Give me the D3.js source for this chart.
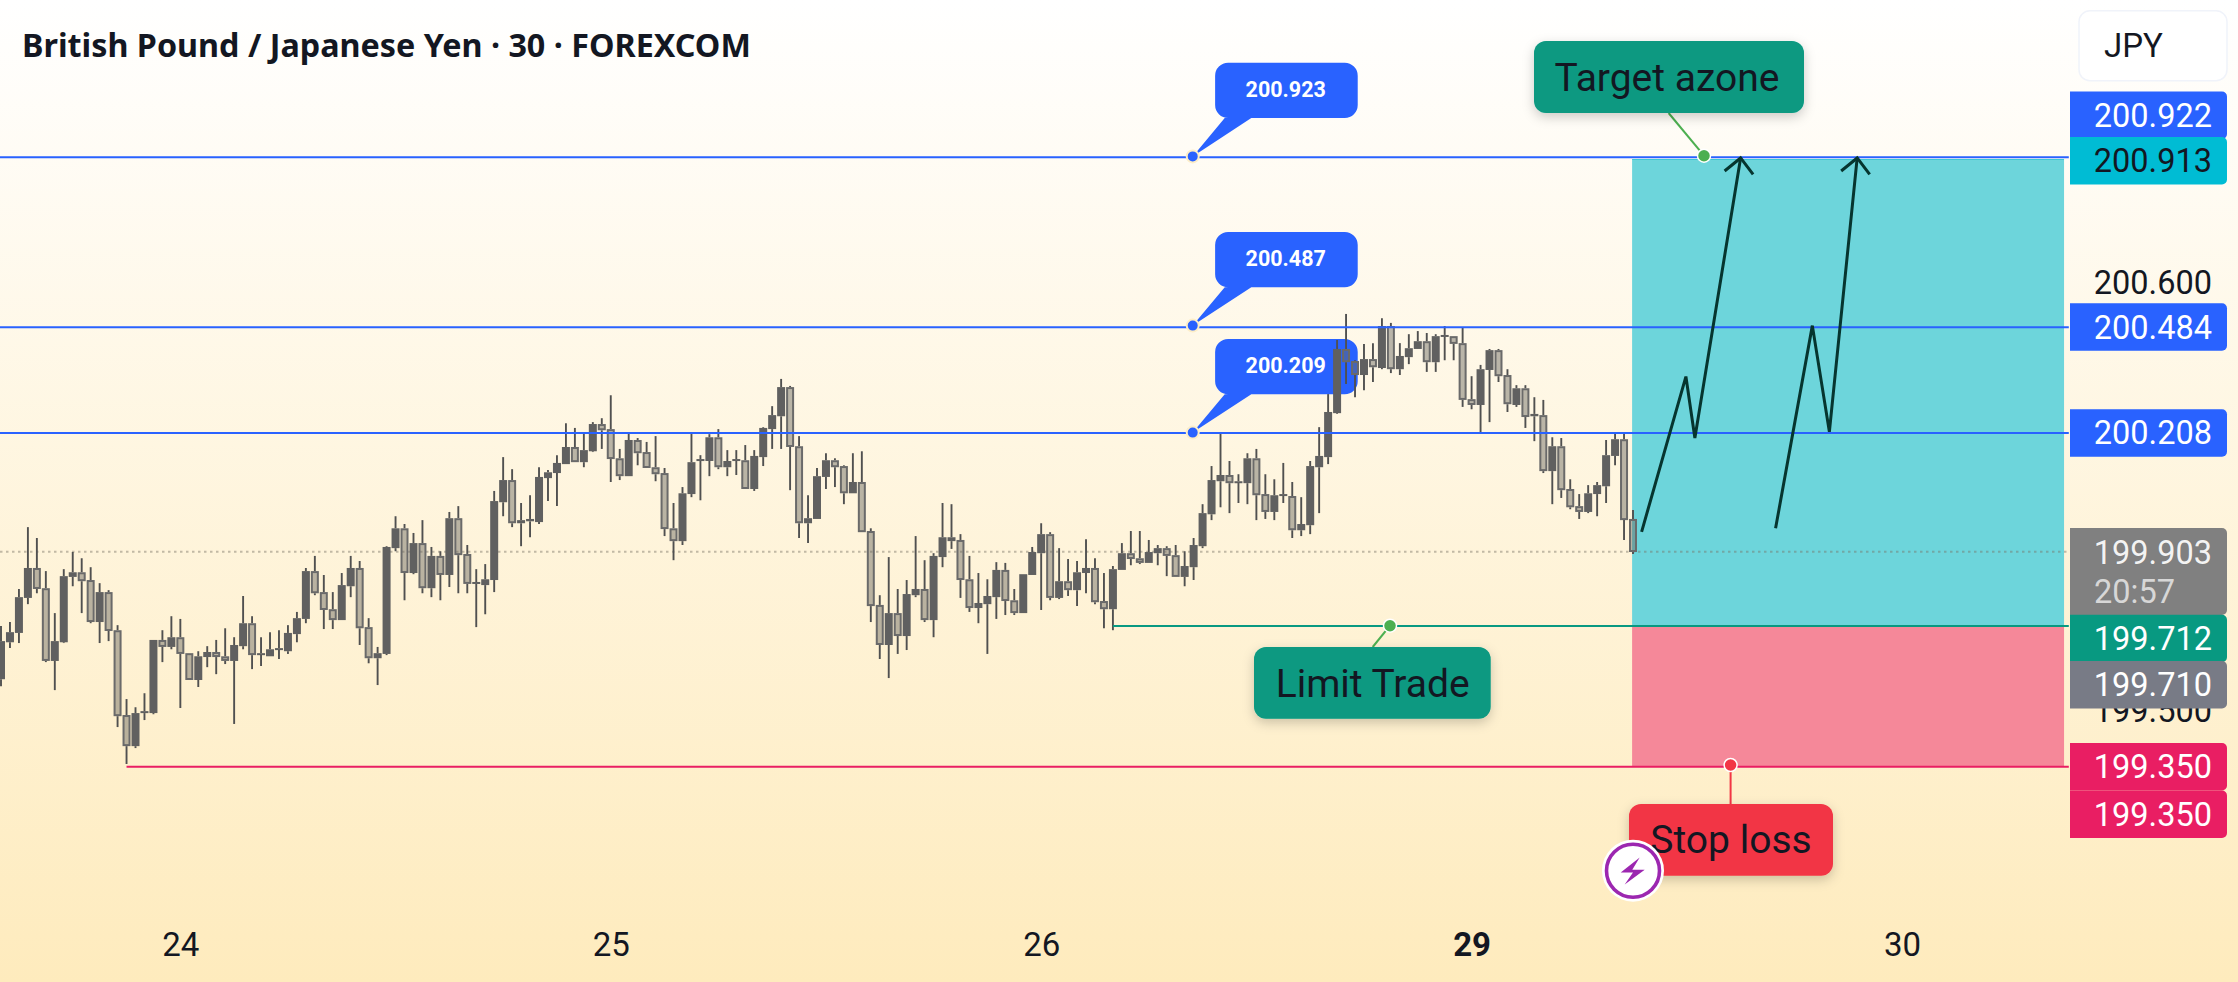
<!DOCTYPE html>
<html><head><meta charset="utf-8">
<script src="https://cdnjs.cloudflare.com/ajax/libs/d3/7.8.5/d3.min.js"></script>
<style>html,body{margin:0;padding:0;background:#fff;overflow:hidden}svg{display:block}</style>
</head><body><div id="chart"></div>
<script>
const titleText = "British Pound / Japanese Yen · 30 · FOREXCOM";
const highs = [
199.712,199.722,199.807,199.966,199.938,199.853,199.745,199.858,199.902,199.886,
199.863,199.822,199.804,199.714,199.524,199.503,199.539,199.676,199.701,199.737,
199.730,199.642,199.647,199.660,199.676,199.706,199.683,199.789,199.737,199.683,
199.696,199.701,199.714,199.748,199.861,199.892,199.843,199.799,199.848,199.892,
199.879,199.732,199.658,199.917,199.994,199.974,199.951,199.984,199.915,199.904,
200.005,200.020,199.920,199.858,199.871,200.059,200.146,200.115,200.028,200.048,
200.120,200.113,200.151,200.233,200.221,200.208,200.236,200.246,200.305,200.167,
200.208,200.195,200.185,200.200,200.118,200.028,200.069,200.210,200.151,200.205,
200.218,200.164,200.164,200.177,200.164,200.223,200.277,200.347,200.329,200.200,
200.048,200.118,200.156,200.143,200.125,200.156,200.161,199.963,199.791,199.889,
199.807,199.830,199.943,199.881,199.899,200.028,200.025,199.948,199.892,199.848,
199.832,199.876,199.874,199.807,199.845,199.915,199.976,199.953,199.912,199.884,
199.879,199.935,199.886,199.848,199.866,199.925,199.956,199.956,199.933,199.920,
199.917,199.920,199.904,199.938,200.025,200.123,200.210,200.136,200.102,200.156,
200.167,200.102,200.089,200.131,200.082,200.043,200.136,200.223,200.308,200.447,
200.514,200.395,200.437,200.439,200.503,200.491,200.439,200.462,200.470,200.465,
200.462,200.483,200.457,200.478,200.354,200.383,200.424,200.424,200.372,200.331,
200.331,200.300,200.293,200.197,200.195,200.089,200.051,200.074,200.082,200.190,
200.208,200.208,200.010];
const lows = [
199.557,199.655,199.668,199.768,199.796,199.619,199.547,199.668,199.814,199.745,
199.719,199.668,199.673,199.452,199.357,199.398,199.470,199.485,199.619,199.652,
199.501,199.573,199.555,199.606,199.588,199.614,199.460,199.652,199.601,199.609,
199.634,199.627,199.640,199.670,199.719,199.791,199.704,199.704,199.727,199.786,
199.663,199.616,199.560,199.637,199.904,199.778,199.845,199.796,199.786,199.778,
199.812,199.796,199.796,199.709,199.742,199.799,199.994,199.966,199.917,199.940,
199.974,200.033,200.020,200.128,200.133,200.120,200.159,200.167,200.082,200.087,
200.097,200.125,200.118,200.084,199.943,199.881,199.920,200.043,200.035,200.097,
200.115,200.097,200.100,200.064,200.059,200.123,200.167,200.167,200.061,199.938,
199.925,199.987,200.064,200.069,200.025,200.053,199.953,199.722,199.627,199.578,
199.640,199.650,199.786,199.722,199.683,199.863,199.910,199.784,199.748,199.719,
199.640,199.730,199.740,199.740,199.745,199.843,199.753,199.778,199.781,199.789,
199.763,199.796,199.768,199.706,199.701,199.856,199.868,199.871,199.874,199.868,
199.840,199.838,199.814,199.830,199.912,199.984,200.017,200.002,200.028,200.025,
199.984,199.987,199.984,200.028,199.938,199.943,199.948,200.002,200.128,200.257,
200.334,200.300,200.318,200.339,200.372,200.362,200.357,200.385,200.424,200.365,
200.365,200.395,200.395,200.275,200.269,200.210,200.236,200.339,200.262,200.275,
200.221,200.187,200.105,200.025,200.041,200.012,199.987,200.002,199.994,200.028,
200.125,199.933,199.897];
const opens = [
199.575,199.670,199.694,199.784,199.861,199.809,199.622,199.670,199.838,199.850,
199.830,199.722,199.799,199.701,199.483,199.403,199.488,199.488,199.676,199.658,
199.683,199.642,199.573,199.632,199.645,199.634,199.622,199.660,199.719,199.637,
199.634,199.650,199.647,199.691,199.730,199.853,199.799,199.755,199.727,199.814,
199.861,199.709,199.629,199.640,199.912,199.963,199.848,199.925,199.809,199.892,
199.843,199.989,199.897,199.820,199.817,199.830,200.030,200.087,199.976,199.981,
199.979,200.092,200.105,200.128,200.172,200.133,200.161,200.231,200.218,200.143,
200.097,200.190,200.159,200.120,200.105,199.963,199.930,200.051,200.136,200.136,
200.197,200.120,200.136,200.138,200.064,200.146,200.218,200.251,200.326,200.174,
199.976,199.987,200.095,200.138,200.123,200.053,200.082,199.956,199.766,199.663,
199.745,199.686,199.791,199.807,199.727,199.889,199.930,199.933,199.832,199.758,
199.768,199.786,199.856,199.778,199.745,199.843,199.899,199.948,199.784,199.827,
199.804,199.848,199.861,199.776,199.755,199.856,199.899,199.886,199.874,199.899,
199.912,199.894,199.838,199.863,199.917,199.999,200.084,200.100,200.082,200.079,
200.143,200.051,200.005,200.046,200.046,199.958,199.971,200.120,200.146,200.259,
200.424,200.393,200.357,200.398,200.375,200.483,200.372,200.403,200.424,200.444,
200.390,200.457,200.457,200.439,200.295,200.280,200.370,200.421,200.357,200.280,
200.323,200.251,200.254,200.110,200.174,200.064,200.020,200.005,200.051,200.071,
200.149,200.192,199.987];
const closes = [
199.673,199.696,199.786,199.861,199.807,199.622,199.673,199.840,199.850,199.827,
199.722,199.799,199.699,199.480,199.403,199.488,199.493,199.676,199.658,199.683,
199.640,199.573,199.634,199.645,199.632,199.622,199.663,199.719,199.637,199.642,
199.652,199.655,199.694,199.732,199.853,199.796,199.753,199.727,199.817,199.861,
199.706,199.629,199.642,199.915,199.963,199.848,199.925,199.809,199.892,199.843,
199.989,199.894,199.820,199.825,199.832,200.033,200.087,199.976,199.984,199.987,
200.095,200.107,200.131,200.172,200.133,200.164,200.231,200.215,200.141,200.097,
200.190,200.156,200.118,200.102,199.961,199.930,200.053,200.133,200.141,200.197,
200.120,200.136,200.141,200.064,200.149,200.221,200.254,200.326,200.172,199.976,
199.989,200.097,200.138,200.120,200.053,200.082,199.953,199.763,199.663,199.745,
199.686,199.794,199.807,199.727,199.892,199.940,199.940,199.830,199.758,199.771,
199.789,199.856,199.776,199.745,199.845,199.902,199.948,199.784,199.827,199.804,
199.850,199.861,199.773,199.755,199.858,199.899,199.884,199.874,199.902,199.912,
199.892,199.838,199.866,199.920,200.002,200.087,200.100,200.079,200.084,200.143,
200.048,200.005,200.048,200.051,199.958,199.974,200.123,200.149,200.262,200.424,
200.390,200.357,200.398,200.377,200.483,200.372,200.406,200.426,200.444,200.390,
200.457,200.460,200.437,200.293,200.280,200.372,200.421,200.354,200.282,200.323,
200.249,200.257,200.110,200.174,200.061,200.017,200.005,200.053,200.074,200.151,
200.192,199.984,199.902];

const dayTickBars = [20,68,116,164,212];
const dayTickLabels = ["24","25","26","29","30"];
const priceTicks = [200.6,199.5];
const levelPrices = [200.917,200.480,200.208];
const calloutLabels = ["200.923","200.487","200.209"];
const calloutPrices = [200.919,200.484,200.209];
const calloutBar = 132.9;
const lastPrice = 199.903;
const entryPrice = 199.712, targetPrice = 200.911, stopPrice = 199.350;
const entryStartBar = 124, stopStartBar = 14, zoneStartBar = 181.9, zoneEndBar = 230.07, paneEndBar = 230.6;
const arrowA = [[182.96,199.954],[187.9,200.353],[188.9,200.195],[194.0,200.915]];
const arrowB = [[197.9,199.963],[202.0,200.484],[203.9,200.211],[207.0,200.915]];
const tagLabels = ["200.922","200.913","200.484","200.208","199.712","199.710","199.350","199.350"];
const tagPrices = [200.922,200.913,200.484,200.208,199.712,199.710,199.350,199.350];
const tagShifts = [-40,2,1.4,0,12.6,58,0,47.5];
const tagFills = ["#2962ff","#00bcd4","#2962ff","#2962ff","#089981","#787b86","#e91e63","#e91e63"];
const tagInks = ["#fff","#131722","#fff","#fff","#fff","#fff","#fff","#fff"];

const W = 2238, H = 982;
const svg = d3.select("#chart").append("svg").attr("width",W).attr("height",H).attr("viewBox",`0 0 ${W} ${H}`);
const defs = svg.append("defs");
const grad = defs.append("linearGradient").attr("id","bg").attr("x1",0).attr("y1",0).attr("x2",0).attr("y2",1);
grad.append("stop").attr("offset",0).attr("stop-color","#ffffff");
grad.append("stop").attr("offset",1).attr("stop-color","#feebbd");
const shadow = defs.append("filter").attr("id","sh").attr("x","-20%").attr("y","-30%").attr("width","140%").attr("height","170%");
shadow.append("feDropShadow").attr("dx",0).attr("dy",4).attr("stdDeviation",6).attr("flood-color","#000").attr("flood-opacity",.2);

svg.append("rect").attr("width",W).attr("height",H).attr("fill","url(#bg)");

const x = d3.scaleLinear().domain([0,182]).range([1,1633]);
const y = d3.scaleLinear().domain([199,201]).range([902.9,124.9]);
const ROBOTO = "Roboto, sans-serif";
const INK = "#131722";

// Zones
svg.append("rect").attr("x",x(zoneStartBar)).attr("y",y(targetPrice)).attr("width",x(zoneEndBar)-x(zoneStartBar)).attr("height",y(entryPrice)-y(targetPrice)).attr("fill","#6dd5db");
svg.append("line").attr("x1",x(zoneStartBar)).attr("x2",x(zoneEndBar)).attr("y1",y(targetPrice)).attr("y2",y(targetPrice)).attr("stroke","#3cc8d4").attr("stroke-width",1.2);
svg.append("rect").attr("x",x(zoneStartBar)).attr("y",y(entryPrice)).attr("width",x(zoneEndBar)-x(zoneStartBar)).attr("height",y(stopPrice)-y(entryPrice)).attr("fill","#f58899");

// Blue callouts
const callouts = d3.range(calloutLabels.length).map(i=>({label:calloutLabels[i],p:calloutPrices[i]}));
const cg = svg.append("g");
callouts.forEach(c=>{
  const ax=x(calloutBar), ay=y(c.p), l=ax+22.4, r=ax+165, t=ay-93.6, b=ay-38.4, rad=13;
  const pth=d3.path();
  pth.moveTo(l+rad,t); pth.lineTo(r-rad,t); pth.arcTo(r,t,r,t+rad,rad); pth.lineTo(r,b-rad); pth.arcTo(r,b,r-rad,b,rad);
  pth.lineTo(ax+58.6,b); pth.lineTo(ax,ay); pth.lineTo(ax+32,b); pth.lineTo(l+rad,b); pth.arcTo(l,b,l,b-rad,rad); pth.lineTo(l,t+rad); pth.arcTo(l,t,l+rad,t,rad); pth.closePath();
  cg.append("path").attr("d",pth.toString()).attr("fill","#2962ff");
  cg.append("text").attr("x",ax+93).attr("y",ay-68.2+8.4).attr("text-anchor","middle").attr("font-family",ROBOTO).attr("font-weight",700).attr("font-size",21.5).attr("fill","#fff").text(c.label);
});

// Last price dotted line
svg.append("line").attr("x1",0).attr("x2",x(paneEndBar)).attr("y1",y(lastPrice)).attr("y2",y(lastPrice)).attr("stroke","rgba(120,113,100,.45)").attr("stroke-width",2).attr("stroke-dasharray","2.5 3.5");

// Candles
const candles = d3.range(opens.length).map(i=>({i,o:opens[i],h:highs[i],l:lows[i],c:closes[i]}));
const cs = svg.append("g").selectAll("g").data(candles).join("g");
const wick = (sel,a,b)=>sel.append("line").attr("x1",d=>x(d.i)).attr("x2",d=>x(d.i)).attr("y1",d=>y(a(d))).attr("y2",d=>y(b(d))).attr("stroke","#505050").attr("stroke-width",1.9);
wick(cs,d=>d.h,d=>Math.max(d.o,d.c));
wick(cs,d=>Math.min(d.o,d.c),d=>d.l);
cs.filter(d=>d.c>=d.o).append("rect")
  .attr("x",d=>x(d.i)-4).attr("width",8)
  .attr("y",d=>y(d.c)).attr("height",d=>Math.max(2,y(d.o)-y(d.c))).attr("fill","#606060");
cs.filter(d=>d.c<d.o).append("rect")
  .attr("x",d=>x(d.i)-3).attr("width",6)
  .attr("y",d=>y(d.o)+1).attr("height",d=>Math.max(1,y(d.c)-y(d.o)-2))
  .attr("fill","rgba(105,102,95,.46)").attr("stroke","#6a6a6a").attr("stroke-width",2);

// Horizontal level lines
levelPrices.forEach(p=>svg.append("line").attr("x1",0).attr("x2",x(paneEndBar)).attr("y1",y(p)).attr("y2",y(p)).attr("stroke","#2962ff").attr("stroke-width",2));
svg.append("line").attr("x1",x(entryStartBar)).attr("x2",x(paneEndBar)).attr("y1",y(entryPrice)).attr("y2",y(entryPrice)).attr("stroke","#089981").attr("stroke-width",2);
svg.append("line").attr("x1",x(stopStartBar)).attr("x2",x(paneEndBar)).attr("y1",y(stopPrice)).attr("y2",y(stopPrice)).attr("stroke","#e91e63").attr("stroke-width",2);

// Callout dots
callouts.forEach(c=>svg.append("circle").attr("cx",x(calloutBar)).attr("cy",y(c.p)).attr("r",6).attr("fill","#2962ff").attr("stroke","#fdeec8").attr("stroke-width",2));

// Arrows
const lineGen = d3.line().x(d=>x(d[0])).y(d=>y(d[1]));
[arrowA,arrowB].forEach(a=>{
  svg.append("path").attr("d",lineGen(a)).attr("fill","none").attr("stroke","#06352f").attr("stroke-width",3).attr("stroke-linejoin","miter").attr("stroke-linecap","butt");
  const t=a[a.length-1], tx=x(t[0]), ty=y(t[1]);
  svg.append("path").attr("d",`M${tx-16},${ty+13}L${tx},${ty}L${tx+12.5},${ty+16.5}`).attr("fill","none").attr("stroke","#06352f").attr("stroke-width",3);
});

// Label boxes with connectors
function noteBox(label,fill,lx,rx,ty,by,cx,cyText,dotX,dotY,joinX,joinY,lineCol){
  svg.append("line").attr("x1",dotX).attr("y1",dotY).attr("x2",joinX).attr("y2",joinY).attr("stroke",lineCol).attr("stroke-width",2);
  svg.append("rect").attr("x",lx).attr("y",ty).attr("width",rx-lx).attr("height",by-ty).attr("rx",12).attr("fill",fill).attr("filter","url(#sh)");
  svg.append("text").attr("x",cx).attr("y",cyText+13.8).attr("text-anchor","middle").attr("font-family",ROBOTO).attr("font-size",39).attr("fill",INK).text(label);
  svg.append("circle").attr("cx",dotX).attr("cy",dotY).attr("r",6.5).attr("fill",lineCol).attr("stroke","#fff").attr("stroke-width",1.5);
}
noteBox("Target azone","#089981",1534,1804,41,113,1667,76.7,1704,155.7,1668.6,113,"#4caf50");
noteBox("Limit Trade","#089981",1254,1490.7,647,718.7,1372.7,683,1390,625.7,1372.7,647,"#4caf50");
noteBox("Stop loss","#f23645",1629,1833,804,875.7,1731,839,1730.6,765,1730.6,804,"#f23645");

// Lightning badge
const bx=1633,by=870.7;
svg.append("circle").attr("cx",bx).attr("cy",by).attr("r",31).attr("fill","#fff");
svg.append("circle").attr("cx",bx).attr("cy",by).attr("r",26.5).attr("fill","#fff").attr("stroke","#9c27b0").attr("stroke-width",3.6);
svg.append("path").attr("d",[[6.7,-13.3],[-12.3,1.7],[0,1.7],[-8.3,13.7],[11.7,-1],[-0.7,-1]].map((p,i)=>(i?"L":"M")+(bx+p[0])+","+(by+p[1])).join("")+"Z").attr("fill","#9c27b0");

// Axes
const xAxis = d3.axisBottom(x).tickValues(dayTickBars).tickSize(0).tickPadding(0).tickFormat((d,i)=>dayTickLabels[i]);
const gx = svg.append("g").attr("transform","translate(0,956)").call(xAxis);
gx.select(".domain").remove();
gx.selectAll("text").attr("dy",0).attr("y",0).attr("font-family",ROBOTO).attr("font-size",33).attr("fill",INK).attr("font-weight",(d,i)=>dayTickLabels[i]==="29"?700:400);
const yAxis = d3.axisRight(y).tickValues(priceTicks).tickSize(0).tickPadding(0).tickFormat(d3.format(".3f"));
const gy = svg.append("g").attr("transform","translate(2212,1.5)").call(yAxis);
gy.select(".domain").remove();
gy.selectAll("text").attr("x",0).attr("dy",".355em").attr("text-anchor","end").attr("font-family",ROBOTO).attr("font-size",32.5).attr("fill",INK);

// Price tags
function tag(cy,h,fill){
  const l=2070,r=2227,t=cy-h/2,b=cy+h/2,rad=5;
  const p=d3.path(); p.moveTo(l,t); p.lineTo(r-rad,t); p.arcTo(r,t,r,t+rad,rad); p.lineTo(r,b-rad); p.arcTo(r,b,r-rad,b,rad); p.lineTo(l,b); p.closePath();
  svg.append("path").attr("d",p.toString()).attr("fill",fill);
}
function tagText(txt,cy,ink,anchor,tx){
  svg.append("text").attr("x",tx).attr("y",cy+11.5).attr("text-anchor",anchor).attr("font-family",ROBOTO).attr("font-size",32.5).attr("fill",ink).text(txt);
}
// gray last-price tag
tag(571.5,87,"#808080");
tagText("199.903",552.7,"rgba(255,255,255,.92)","end",2212);
tagText("20:57",591.7,"rgba(255,255,255,.7)","start",2094);
tagLabels.forEach((s,i)=>{
  const cy=y(tagPrices[i])+tagShifts[i];
  tag(cy,47.5,tagFills[i]);
  tagText(s,cy,tagInks[i],"end",2212);
});

// Currency button
svg.append("rect").attr("x",2079).attr("y",10.7).attr("width",148).attr("height",70).attr("rx",11).attr("fill","#fff").attr("stroke","#f0f3fa").attr("stroke-width",1.5);
svg.append("text").attr("x",2104).attr("y",57).attr("font-family",ROBOTO).attr("font-size",33).attr("fill",INK).text("JPY");

// Title
svg.append("text").attr("x",22).attr("y",57).attr("font-family","'Noto Sans', sans-serif").attr("font-weight",700).attr("font-size",32.3).attr("fill",INK).text(titleText);
</script></body></html>
